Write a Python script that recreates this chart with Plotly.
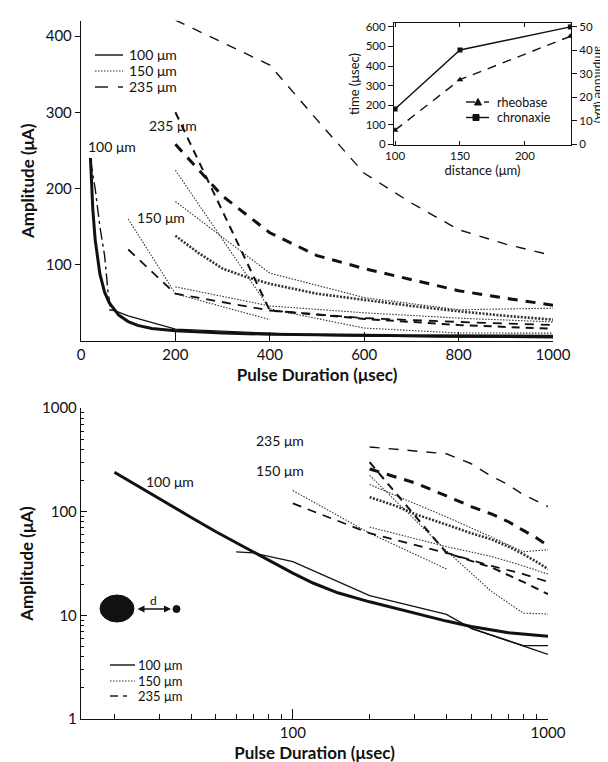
import plotly.graph_objects as go

W, H = 608, 762


def px(x):
    return x / W


def py(y):
    return 1 - y / H


# ---------------- data ----------------
# 100 um (solid)
j_x = [20, 25, 30, 40, 50, 60, 80, 100, 120, 150, 200, 300, 400, 500, 700, 1000]
j_y = [240, 173, 133, 88, 64, 50, 34, 25.5, 20.5, 16.5, 13.5, 10.5, 8.8, 7.8, 6.8, 6.3]
k1_x = [60, 70, 100, 200, 400, 500, 1000]
k1_y = [41, 40, 33, 15.5, 10.2, 7.5, 4.2]
k2_x = [500, 800, 1000]
k2_y = [7.5, 5.1, 5.1]
# 150 um (dotted)
d_x = [100, 200, 400]
d_y = [160, 62, 28]
e_x = [200, 400, 600, 800, 1000]
e_y = [224, 42, 17, 10.5, 10.3]
f_x = [200, 400, 600, 800, 1000]
f_y = [183, 89, 57, 41, 43]
g_x = [200, 250, 300, 350, 400, 500, 600, 700, 800, 900, 1000]
g_y = [138, 115, 95, 84, 75, 62, 54, 46, 39, 33, 28]
h_x = [200, 400, 600, 800, 1000]
h_y = [71, 46, 37, 30, 25]
# 235 um (dashed)
a_x = [200, 400, 500, 600, 700, 800, 900, 1000]
a_y = [421, 362, 290, 220, 181, 146, 127, 112]
b_x = [200, 300, 400, 500, 600, 700, 800, 900, 1000]
b_y = [258, 190, 142, 112, 95, 80, 66, 56, 47]
c_x = [200, 400, 600, 800, 1000]
c_y = [300, 40, 29, 21, 16]
i_x = [100, 200, 400, 600, 800, 1000]
i_y = [120, 62, 40, 30, 25, 21]
# extra dashed trace seen only in the linear panel
l_x = [20, 30, 40, 50, 57, 62]
l_y = [238, 200, 150, 112, 66, 45]

# inset
distance = [100, 150, 235]
chronaxie = [180, 482, 600]
rheobase = [6, 27.5, 46]

legend_labels = ["100 \u03bcm", "150 \u03bcm", "235 \u03bcm"]
inset_labels = ["rheobase", "chronaxie"]

FONT = "Lato"
BLK = "#111111"
DOT = "#333333"

styles = {
    "j": dict(color=BLK, width=3, dash="solid"),
    "k": dict(color=BLK, width=1.3, dash="solid"),
    "dot": dict(color=DOT, width=1.1, dash="1.5px,1.5px"),
    "g": dict(color=DOT, width=2.6, dash="2px,1.5px"),
    "a": dict(color=BLK, width=1.4, dash="10px,9px"),
    "b": dict(color=BLK, width=3, dash="10px,8px"),
    "c": dict(color=BLK, width=2, dash="8px,6px"),
    "i": dict(color=BLK, width=1.8, dash="9px,7px"),
    "l": dict(color=BLK, width=1.4, dash="12px,4px,3px,4px"),
}

series = [
    (j_x, j_y, "j"), (k1_x, k1_y, "k"), (k2_x, k2_y, "k"),
    (d_x, d_y, "dot"), (e_x, e_y, "dot"), (f_x, f_y, "dot"),
    (g_x, g_y, "g"), (h_x, h_y, "dot"),
    (a_x, a_y, "a"), (b_x, b_y, "b"), (c_x, c_y, "c"), (i_x, i_y, "i"),
]

fig = go.Figure()

for xa, ya in (("x", "y"), ("x2", "y2")):
    for xs, ys, st in series:
        fig.add_trace(go.Scatter(x=xs, y=ys, mode="lines", line=styles[st],
                                 xaxis=xa, yaxis=ya, showlegend=False,
                                 hoverinfo="skip"))

fig.add_trace(go.Scatter(x=l_x, y=l_y, mode="lines", line=styles["l"],
                         xaxis="x", yaxis="y", showlegend=False, hoverinfo="skip"))

# inset traces
fig.add_trace(go.Scatter(x=distance, y=rheobase, mode="lines+markers", name="rheobase",
                         line=dict(color=BLK, width=1.4, dash="9px,7px"),
                         marker=dict(symbol="triangle-up", size=6, color=BLK),
                         xaxis="x3", yaxis="y4", showlegend=False))
fig.add_trace(go.Scatter(x=distance, y=chronaxie, mode="lines+markers", name="chronaxie",
                         line=dict(color=BLK, width=1.4),
                         marker=dict(symbol="square", size=5, color=BLK),
                         xaxis="x3", yaxis="y3", showlegend=False))

axline = dict(showline=True, linecolor=BLK, linewidth=1.4, showgrid=False, zeroline=False,
              automargin=False, tickcolor=BLK, tickfont=dict(family=FONT, size=15, color=BLK))
inset_ax = dict(showline=True, linecolor=BLK, linewidth=1.1, showgrid=False, zeroline=False,
                automargin=False, tickcolor=BLK, tickfont=dict(family=FONT, size=11.5, color=BLK))

minor_x = [20, 30, 40, 50, 60, 70, 80, 90, 200, 300, 400, 500, 600, 700, 800, 900]
minor_y = [2, 3, 4, 5, 6, 7, 8, 9, 20, 30, 40, 50, 60, 70, 80, 90,
           200, 300, 400, 500, 600, 700, 800, 900]

title_font = dict(size=17, weight="bold", family=FONT, color=BLK)

fig.update_layout(
    template="none",
    width=W, height=H, margin=dict(l=0, r=0, t=0, b=0, autoexpand=False),
    paper_bgcolor="white", plot_bgcolor="white",
    font=dict(family=FONT, color=BLK),
    showlegend=False,
    xaxis=dict(domain=[px(73), px(545)], range=[0, 1000], anchor="y",
               tickvals=[0, 200, 400, 600, 800, 1000], ticks="inside", ticklen=9,
               title=dict(text="Pulse Duration (\u03bcsec)", font=title_font, standoff=6), **axline),
    yaxis=dict(domain=[py(333), py(12.8)], range=[0, 420], anchor="x",
               tickvals=[100, 200, 300, 400], ticks="outside", ticklen=5,
               title=dict(text="Amplitude (\u03bcA)", font=title_font, standoff=6), **axline),
    xaxis2=dict(domain=[px(73), px(540)], type="log", range=[1.17, 3], anchor="y2",
                tickvals=[100, 1000], ticktext=["100", "1000"], ticks="inside", ticklen=10,
                minor=dict(tickvals=minor_x, ticks="inside", ticklen=5, tickcolor=BLK),
                title=dict(text="Pulse Duration (\u03bcsec)", font=title_font, standoff=6), **axline),
    yaxis2=dict(domain=[py(711), py(400)], type="log", range=[0, 3], anchor="x2",
                tickvals=[1, 10, 100, 1000], ticktext=["1", "10", "100", "1000"],
                ticks="inside", ticklen=6,
                minor=dict(tickvals=minor_y, ticks="inside", ticklen=3, tickcolor=BLK),
                title=dict(text="Amplitude (\u03bcA)", font=title_font, standoff=4), **axline),
    xaxis3=dict(domain=[px(386), px(563)], range=[99.2, 235.5], anchor="y3",
                tickvals=[100, 150, 200], ticks="inside", ticklen=4, mirror="ticks",
                title=dict(text="distance (\u03bcm)", font=dict(size=13, family=FONT, color=BLK),
                           standoff=4), **inset_ax),
    yaxis3=dict(domain=[py(137), py(15)], range=[-4, 620], anchor="x3",
                tickvals=[0, 100, 200, 300, 400, 500, 600], ticks="outside", ticklen=5,
                mirror=True,
                title=dict(text="time (\u03bcsec)", font=dict(size=13, family=FONT, color=BLK),
                           standoff=3), **inset_ax),
    yaxis4=dict(overlaying="y3", side="right", anchor="x3", range=[-4 / 12, 620 / 12],
                tickvals=[0, 10, 20, 30, 40, 50], ticks="outside", ticklen=5,
                showline=False, showgrid=False, zeroline=False, automargin=False, tickcolor=BLK,
                tickfont=dict(family=FONT, size=11.5, color=BLK)),
)


def text(label, x, y, size, xanchor="center", angle=0):
    fig.add_annotation(xref="paper", yref="paper", x=px(x), y=py(y), text=label,
                       xanchor=xanchor, yanchor="middle", textangle=angle, showarrow=False,
                       font=dict(size=size, family=FONT, color=BLK))


# keys for the two main panels
key_top = [[(87, 115, None)], [(87, 115, "1.5px,1.5px")], [(87, 100, None), (110, 115, None)]]
key_bot = [[(102, 127, None)], [(102, 127, "1.5px,1.5px")], [(102, 110, None), (115, 119, None)]]
for segs_all, ys, tx, fs in ((key_top, (47, 63, 79), 119, 14), (key_bot, (657, 673, 688), 128, 13)):
    for k, (lab, segs, yy) in enumerate(zip(legend_labels, segs_all, ys)):
        for (x0, x1, dsh) in segs:
            st = dict(color=DOT if k == 1 else BLK, width=1.1 if k == 1 else 1.4)
            if dsh:
                st["dash"] = dsh
            fig.add_shape(type="line", xref="paper", yref="paper", x0=px(x0), x1=px(x1),
                          y0=py(yy), y1=py(yy), line=st)
        text(lab, tx, yy, fs, xanchor="left")

# inset key
fig.add_shape(type="line", xref="paper", yref="paper", x0=px(458), x1=px(467), y0=py(94), y1=py(94),
              line=dict(color=BLK, width=1.4))
fig.add_shape(type="line", xref="paper", yref="paper", x0=px(476), x1=px(481), y0=py(94), y1=py(94),
              line=dict(color=BLK, width=1.4))
fig.add_shape(type="path", xref="paper", yref="paper", fillcolor=BLK, line=dict(color=BLK, width=1),
              path=f"M {px(466.5)} {py(97)} L {px(473.5)} {py(97)} L {px(470)} {py(90.5)} Z")
fig.add_shape(type="line", xref="paper", yref="paper", x0=px(458), x1=px(481), y0=py(109.5), y1=py(109.5),
              line=dict(color=BLK, width=1.4))
fig.add_shape(type="rect", xref="paper", yref="paper", x0=px(465), x1=px(471), y0=py(112.5), y1=py(106.5),
              fillcolor=BLK, line=dict(color=BLK, width=1))
text(inset_labels[0], 487, 94, 12.5, xanchor="left")
text(inset_labels[1], 487, 109.5, 12.5, xanchor="left")

# curve labels
text("100 \u03bcm", 104, 138, 14)
text("235 \u03bcm", 165, 118, 14)
text("150 \u03bcm", 153, 210, 14)
text("235 \u03bcm", 272, 432, 14)
text("150 \u03bcm", 272, 463, 14)
text("100 \u03bcm", 162, 473, 14)

text("amplitude (\u03bcA)", 591, 76, 12, angle=90)

# electrode schematic
fig.add_shape(type="circle", xref="paper", yref="paper", x0=px(92), x1=px(126),
              y0=py(614), y1=py(587), fillcolor=BLK, line=dict(color=BLK, width=1))
fig.add_shape(type="circle", xref="paper", yref="paper", x0=px(165), x1=px(172),
              y0=py(604.5), y1=py(597.5), fillcolor=BLK, line=dict(color=BLK, width=1))
fig.add_annotation(xref="paper", yref="paper", x=px(163), y=py(601), ax=-35, ay=0,
                   axref="pixel", ayref="pixel", text="", showarrow=True, arrowhead=2,
                   arrowside="end+start", arrowsize=1, arrowwidth=1.4, arrowcolor=BLK)
text("d", 145, 592, 12)

fig.write_html("out.html")
